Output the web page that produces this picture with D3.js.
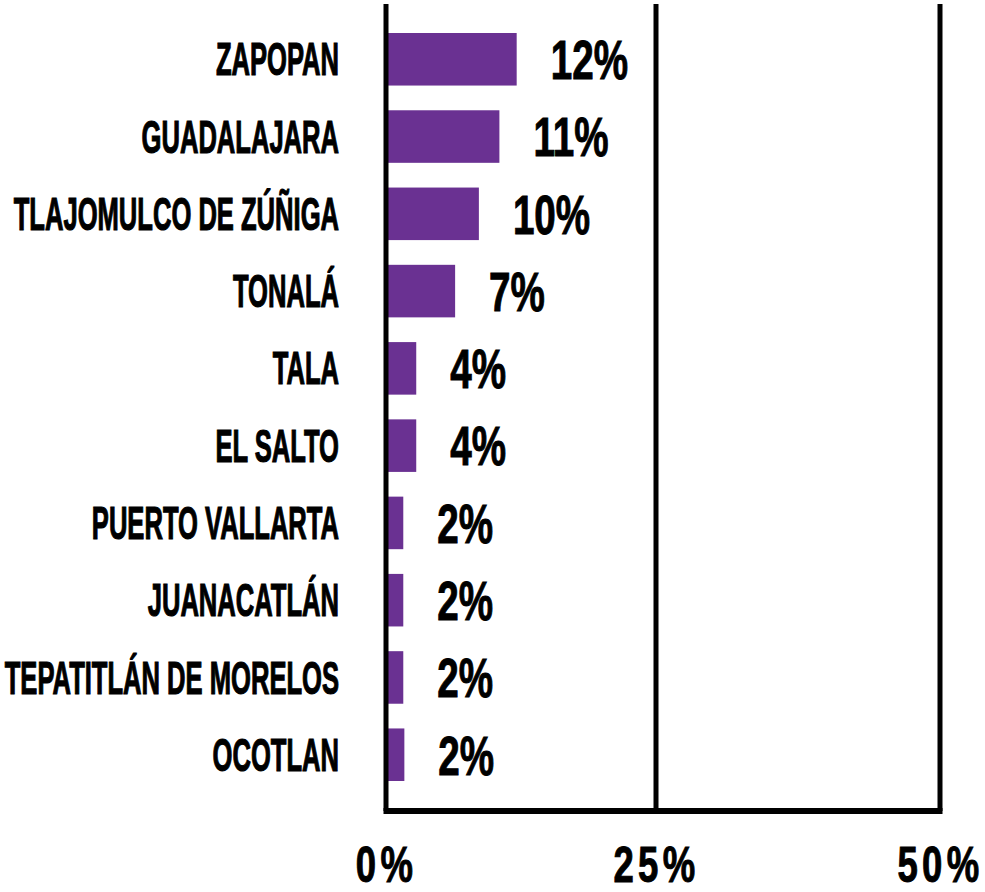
<!DOCTYPE html>
<html><head><meta charset="utf-8">
<script src="https://cdn.jsdelivr.net/npm/d3@7"></script>
<style>body{margin:0;background:#fff}svg{display:block}</style>
</head><body><svg id="c" width="985" height="892"></svg>
<script>
const categories = ["ZAPOPAN","GUADALAJARA","TLAJOMULCO DE ZÚÑIGA","TONALÁ","TALA","EL SALTO","PUERTO VALLARTA","JUANACATLÁN","TEPATITLÁN DE MORELOS","OCOTLAN"];
const values = [12.1,10.5,8.6,6.4,2.8,2.8,1.6,1.6,1.6,1.7];
const valueLabels = ["12%","11%","10%","7%","4%","4%","2%","2%","2%","2%"];
const tickValues = [0,25,50];
const tickLabels = ["0%","25%","50%"];

const FONT = "'Liberation Sans', Arial, sans-serif";
const svg = d3.select("#c");
const x = d3.scaleLinear().domain([0,25,50]).range([386,656,940]);
const y = d3.scaleBand().domain(categories).range([33,781]).paddingInner(0.32).paddingOuter(0);
const lineTop = 4, lineBottom = 811;

// bars
svg.append("g").selectAll("rect").data(categories).join("rect")
  .attr("x", x(0))
  .attr("y", d => y(d))
  .attr("width", (d,i) => x(values[i]) - x(0))
  .attr("height", y.bandwidth())
  .attr("fill", "#6a3192");

// vertical grid/axis lines
svg.append("g").selectAll("line").data(tickValues).join("line")
  .attr("x1", d => x(d)).attr("x2", d => x(d))
  .attr("y1", lineTop).attr("y2", lineBottom)
  .attr("stroke", "#000").attr("stroke-width", 5);

// bottom line
svg.append("line")
  .attr("x1", x(0) - 2.5).attr("x2", x(50) + 2.5)
  .attr("y1", lineBottom).attr("y2", lineBottom)
  .attr("stroke", "#000").attr("stroke-width", 6);

// category labels
svg.append("g").selectAll("text").data(categories).join("text")
  .attr("transform", d => `translate(339,${y(d) + y.bandwidth()/2}) scale(0.556,1)`)
  .attr("text-anchor", "end")
  .attr("dominant-baseline", "central")
  .attr("font-family", FONT).attr("font-weight", "bold").attr("font-size", 46)
  .attr("fill", "#000").attr("stroke", "#000").attr("stroke-width", 1.2)
  .text(d => d);

// value labels
svg.append("g").selectAll("text").data(categories).join("text")
  .attr("transform", (d,i) => `translate(${x(values[i]) + 34},${y(d) + y.bandwidth()/2}) scale(0.69,1)`)
  .attr("text-anchor", "start")
  .attr("dominant-baseline", "central")
  .attr("font-family", FONT).attr("font-weight", "bold").attr("font-size", 56)
  .attr("fill", "#000").attr("stroke", "#000").attr("stroke-width", 1)
  .text((d,i) => valueLabels[i]);

// x axis tick labels
const axis = d3.axisBottom(x).tickValues(tickValues).tickFormat((d,i) => tickLabels[i]).tickSize(0);
const ag = svg.append("g").attr("transform", `translate(0,${lineBottom})`).call(axis);
ag.select(".domain").remove();
ag.selectAll("text")
  .attr("y", 71).attr("dy", 0)
  .attr("transform", "scale(0.73,1)")
  .attr("font-family", FONT).attr("font-weight", "bold").attr("font-size", 50)
  .attr("letter-spacing", 6)
  .attr("fill", "#000").attr("stroke", "#000").attr("stroke-width", 1);
</script>
</body></html>
